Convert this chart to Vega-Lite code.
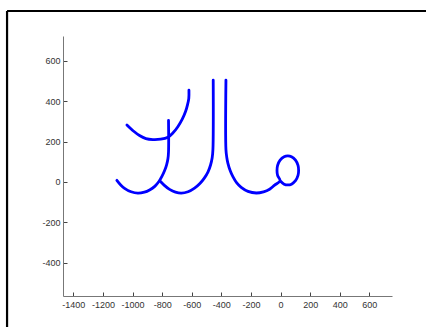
{
  "$schema": "https://vega.github.io/schema/vega-lite/v6.json",
  "width": 329,
  "height": 260,
  "autosize": "none",
  "padding": {"left": 63, "top": 36, "right": 34, "bottom": 31},
  "background": "white",
  "config": {
    "view": {"stroke": null},
    "axis": {
      "grid": false,
      "domainColor": "#777777",
      "domainWidth": 1,
      "tickColor": "#444444",
      "tickSize": -4,
      "labelFont": "Liberation Sans",
      "labelFontSize": 9,
      "labelColor": "#333333",
      "labelExpr": "'' + datum.value",
      "title": null
    }
  },
  "datasets": {
    "frame": [
      {"x1": -1848, "x2": 985, "y1": 848, "y2": 848},
      {"x1": -1848, "x2": -1848, "y1": 848, "y2": -720}
    ],
    "strokes": [
      {"stroke": "a", "i": 1, "x": -1038, "y": 283},
      {"stroke": "a", "i": 2, "x": -990, "y": 250},
      {"stroke": "a", "i": 3, "x": -953, "y": 230},
      {"stroke": "a", "i": 4, "x": -910, "y": 215},
      {"stroke": "a", "i": 5, "x": -863, "y": 210},
      {"stroke": "a", "i": 6, "x": -810, "y": 212},
      {"stroke": "a", "i": 7, "x": -761, "y": 222},
      {"stroke": "a", "i": 8, "x": -725, "y": 245},
      {"stroke": "a", "i": 9, "x": -694, "y": 274},
      {"stroke": "a", "i": 10, "x": -665, "y": 310},
      {"stroke": "a", "i": 11, "x": -642, "y": 349},
      {"stroke": "a", "i": 12, "x": -628, "y": 385},
      {"stroke": "a", "i": 13, "x": -620, "y": 415},
      {"stroke": "a", "i": 14, "x": -619, "y": 455},

      {"stroke": "b", "i": 1, "x": -1106, "y": 8},
      {"stroke": "b", "i": 2, "x": -1080, "y": -15},
      {"stroke": "b", "i": 3, "x": -1054, "y": -32},
      {"stroke": "b", "i": 4, "x": -1010, "y": -49},
      {"stroke": "b", "i": 5, "x": -964, "y": -56},
      {"stroke": "b", "i": 6, "x": -920, "y": -51},
      {"stroke": "b", "i": 7, "x": -885, "y": -40},
      {"stroke": "b", "i": 8, "x": -850, "y": -22},
      {"stroke": "b", "i": 9, "x": -822, "y": 2},
      {"stroke": "b", "i": 10, "x": -800, "y": 30},
      {"stroke": "b", "i": 11, "x": -784, "y": 55},
      {"stroke": "b", "i": 12, "x": -770, "y": 85},
      {"stroke": "b", "i": 13, "x": -761, "y": 115},
      {"stroke": "b", "i": 14, "x": -757, "y": 150},
      {"stroke": "b", "i": 15, "x": -757, "y": 305},

      {"stroke": "c", "i": 1, "x": -811, "y": 2},
      {"stroke": "c", "i": 2, "x": -785, "y": -17},
      {"stroke": "c", "i": 3, "x": -750, "y": -37},
      {"stroke": "c", "i": 4, "x": -710, "y": -51},
      {"stroke": "c", "i": 5, "x": -671, "y": -56},
      {"stroke": "c", "i": 6, "x": -625, "y": -49},
      {"stroke": "c", "i": 7, "x": -581, "y": -31},
      {"stroke": "c", "i": 8, "x": -545, "y": -8},
      {"stroke": "c", "i": 9, "x": -514, "y": 20},
      {"stroke": "c", "i": 10, "x": -490, "y": 50},
      {"stroke": "c", "i": 11, "x": -473, "y": 84},
      {"stroke": "c", "i": 12, "x": -462, "y": 120},
      {"stroke": "c", "i": 13, "x": -457, "y": 160},
      {"stroke": "c", "i": 14, "x": -455, "y": 505},

      {"stroke": "d", "i": 1, "x": -369, "y": 505},
      {"stroke": "d", "i": 2, "x": -369, "y": 160},
      {"stroke": "d", "i": 3, "x": -363, "y": 120},
      {"stroke": "d", "i": 4, "x": -356, "y": 93},
      {"stroke": "d", "i": 5, "x": -340, "y": 55},
      {"stroke": "d", "i": 6, "x": -322, "y": 26},
      {"stroke": "d", "i": 7, "x": -296, "y": -5},
      {"stroke": "d", "i": 8, "x": -266, "y": -27},
      {"stroke": "d", "i": 9, "x": -220, "y": -47},
      {"stroke": "d", "i": 10, "x": -164, "y": -55},
      {"stroke": "d", "i": 11, "x": -115, "y": -49},
      {"stroke": "d", "i": 12, "x": -74, "y": -36},
      {"stroke": "d", "i": 13, "x": -40, "y": -16},
      {"stroke": "d", "i": 14, "x": -3, "y": 6},
      {"stroke": "d", "i": 15, "x": -20, "y": 32},
      {"stroke": "d", "i": 16, "x": -24, "y": 57},
      {"stroke": "d", "i": 17, "x": -20, "y": 82},
      {"stroke": "d", "i": 18, "x": -3, "y": 108},
      {"stroke": "d", "i": 19, "x": 24, "y": 125},
      {"stroke": "d", "i": 20, "x": 49, "y": 129},
      {"stroke": "d", "i": 21, "x": 74, "y": 125},
      {"stroke": "d", "i": 22, "x": 101, "y": 108},
      {"stroke": "d", "i": 23, "x": 118, "y": 82},
      {"stroke": "d", "i": 24, "x": 122, "y": 57},
      {"stroke": "d", "i": 25, "x": 118, "y": 32},
      {"stroke": "d", "i": 26, "x": 101, "y": 6},
      {"stroke": "d", "i": 27, "x": 74, "y": -11},
      {"stroke": "d", "i": 28, "x": 49, "y": -15},
      {"stroke": "d", "i": 29, "x": 24, "y": -11},
      {"stroke": "d", "i": 30, "x": -3, "y": 6}
    ]
  },
  "layer": [
    {
      "data": {"name": "frame"},
      "mark": {"type": "rule", "clip": false, "color": "black", "strokeWidth": 2.2},
      "encoding": {
        "x": {"field": "x1", "type": "quantitative", "scale": {"domain": [-1470, 753], "nice": false, "zero": false},
              "axis": {"values": [-1400, -1200, -1000, -800, -600, -400, -200, 0, 200, 400, 600], "labelPadding": 8}},
        "x2": {"field": "x2"},
        "y": {"field": "y1", "type": "quantitative", "scale": {"domain": [-566, 724], "nice": false, "zero": false},
              "axis": {"values": [-400, -200, 0, 200, 400, 600], "labelPadding": 7}},
        "y2": {"field": "y2"}
      }
    },
    {
      "data": {"name": "strokes"},
      "mark": {"type": "line", "color": "#0000ff", "strokeWidth": 2.8, "strokeCap": "round", "strokeJoin": "round", "interpolate": "catmull-rom"},
      "encoding": {
        "x": {"field": "x", "type": "quantitative",
              "axis": {"values": [-1400, -1200, -1000, -800, -600, -400, -200, 0, 200, 400, 600], "labelPadding": 8}},
        "y": {"field": "y", "type": "quantitative",
              "axis": {"values": [-400, -200, 0, 200, 400, 600], "labelPadding": 7}},
        "detail": {"field": "stroke"},
        "order": {"field": "i", "type": "quantitative"}
      }
    }
  ]
}
